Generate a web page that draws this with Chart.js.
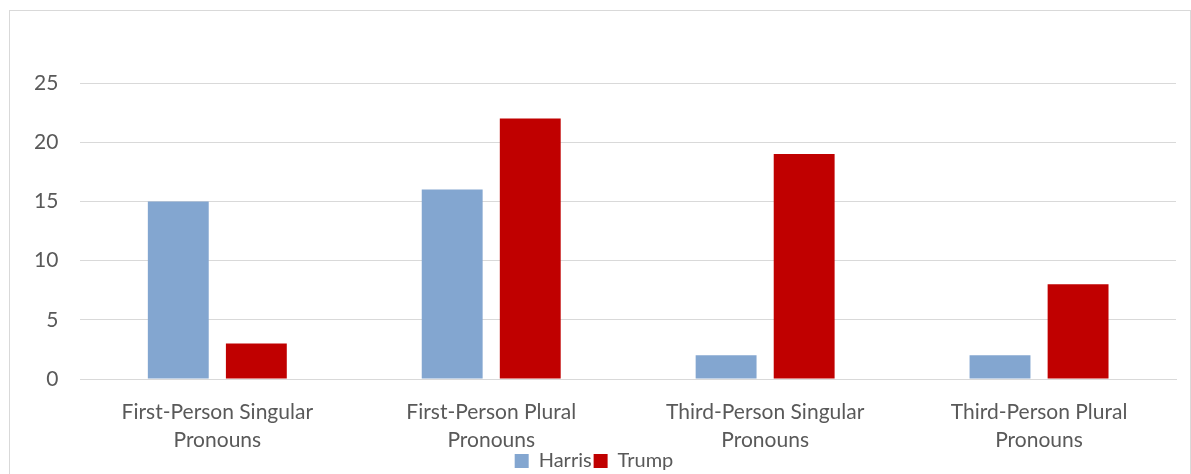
<!DOCTYPE html>
<html>
<head>
<meta charset="utf-8">
<script src="https://cdn.jsdelivr.net/npm/chart.js@4.4.0/dist/chart.umd.min.js"></script>
<style>
  body { margin: 0; background: #fff; }
  #box {
    position: absolute; left: 9px; top: 10px;
    width: 1180px; height: 470px;
    border: 1px solid #d9d9d9; box-sizing: content-box;
  }
</style>
</head>
<body>
<div id="box"><canvas id="myBarChart" width="1180" height="470"></canvas></div>
<script>
// -- Pronoun counts, Harris vs Trump
var categories = [
  ["First-Person Singular", "Pronouns"],
  ["First-Person Plural", "Pronouns"],
  ["Third-Person Singular", "Pronouns"],
  ["Third-Person Plural", "Pronouns"]
];
var harris = [15, 16, 2, 2];
var trump = [3, 22, 19, 8];
var yTicks = [0, 5, 10, 15, 20, 25];

var textColor = '#595959';
var gridColor = '#d9d9d9';
var fontFamily = 'Lato';

var ctx = document.getElementById("myBarChart");

var myBarChart = new Chart(ctx, {
  type: 'bar',
  data: {
    labels: categories,
    datasets: [{
      label: 'Harris',
      data: harris,
      backgroundColor: '#83a6d0'
    }, {
      label: 'Trump',
      data: trump,
      backgroundColor: '#c00000'
    }]
  },
  options: {
    responsive: false,
    animation: false,
    events: [],
    categoryPercentage: 0.57,
    barPercentage: 0.78,
    layout: {
      padding: { top: 72, right: 14, left: 2, bottom: 0 }
    },
    scales: {
      x: {
        grid: { display: false },
        border: { color: gridColor },
        // keep the labels tight against the legend, like the original
        afterFit: function(scale) { scale.height = 70; },
        ticks: {
          color: textColor,
          font: { family: fontFamily, size: 21, lineHeight: 1.333 },
          maxRotation: 0,
          padding: 11
        }
      },
      y: {
        min: 0,
        max: 25,
        afterBuildTicks: function(axis) {
          axis.ticks = yTicks.map(function(v) { return { value: v }; });
        },
        grid: { color: gridColor, drawTicks: false },
        border: { display: false },
        ticks: {
          color: textColor,
          font: { family: fontFamily, size: 21 },
          padding: 22
        }
      }
    },
    plugins: {
      legend: {
        position: 'bottom',
        labels: {
          color: textColor,
          font: { family: fontFamily, size: 20 },
          boxWidth: 14,
          boxHeight: 14,
          padding: 2
        }
      },
      tooltip: { enabled: false }
    }
  }
});
</script>
</body>
</html>
